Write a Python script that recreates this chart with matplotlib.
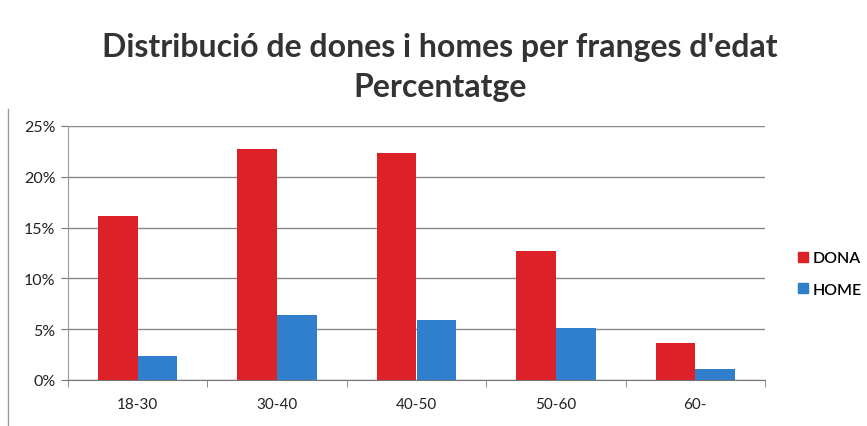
import numpy as np
import matplotlib
matplotlib.use("Agg")
from matplotlib import pyplot as plt
from matplotlib.ticker import PercentFormatter
from matplotlib.lines import Line2D

categories = ['18-30', '30-40', '40-50', '50-60', '60-']
dona = [16.1, 22.7, 22.3, 12.7, 3.6]
home = [2.4, 6.4, 5.9, 5.1, 1.1]

plt.rcParams['font.family'] = ['Lato', 'DejaVu Sans']

fig = plt.figure(figsize=(8.67, 4.27), dpi=100)
ax = fig.add_axes([68 / 867, 1 - 381 / 427, 697 / 867, 254 / 427])

x = np.arange(len(categories))
w = 0.285
ax.bar(x - w / 2, dona, w, color='#DC2228', label='DONA', zorder=3)
ax.bar(x + w / 2, home, w, color='#2F7FCC', label='HOME', zorder=3)

ax.set_xlim(-0.5, len(categories) - 0.5)
ax.set_ylim(0, 25)
ax.set_yticks(np.arange(0, 26, 5))
ax.yaxis.set_major_formatter(PercentFormatter(decimals=0))
ax.set_xticks(x)
ax.set_xticklabels(categories)
ax.set_xticks(np.arange(-0.5, len(categories), 1), minor=True)
ax.tick_params(axis='x', which='major', length=0, pad=12, labelsize=11, colors='#222222')
ax.tick_params(axis='x', which='minor', length=5, color='#777777')
ax.tick_params(axis='y', length=5, color='#777777', labelsize=11.5, labelcolor='#222222', pad=4)
ax.grid(axis='y', color='#888888', linewidth=1, zorder=0)

for s in ['top', 'right']:
    ax.spines[s].set_visible(False)
ax.spines['left'].set_color('#999999')
ax.spines['bottom'].set_color('#777777')

handles = [Line2D([], [], marker='s', linestyle='', markersize=7, color='#DC2228'),
           Line2D([], [], marker='s', linestyle='', markersize=7, color='#2F7FCC')]
fig.legend(handles, ['DONA', 'HOME'], loc='center left', bbox_to_anchor=(781 / 867, 1 - 275 / 427),
           frameon=False, fontsize=11.5, handletextpad=0.05, labelspacing=1.1, handlelength=1,
           prop={'weight': 'semibold', 'size': 11.5})

fig.text(0.507, 1 - 47 / 427, "Distribució de dones i homes per franges d'edat",
         ha='center', va='center', fontsize=23, fontweight='bold', color='#333333')
fig.text(0.507, 1 - 88 / 427, "Percentatge",
         ha='center', va='center', fontsize=23, fontweight='bold', color='#333333')

fig.add_artist(Line2D([8 / 867, 8 / 867], [0, 1 - 110 / 427], color='#999999', linewidth=1))

fig.savefig('out.png', dpi=100)
